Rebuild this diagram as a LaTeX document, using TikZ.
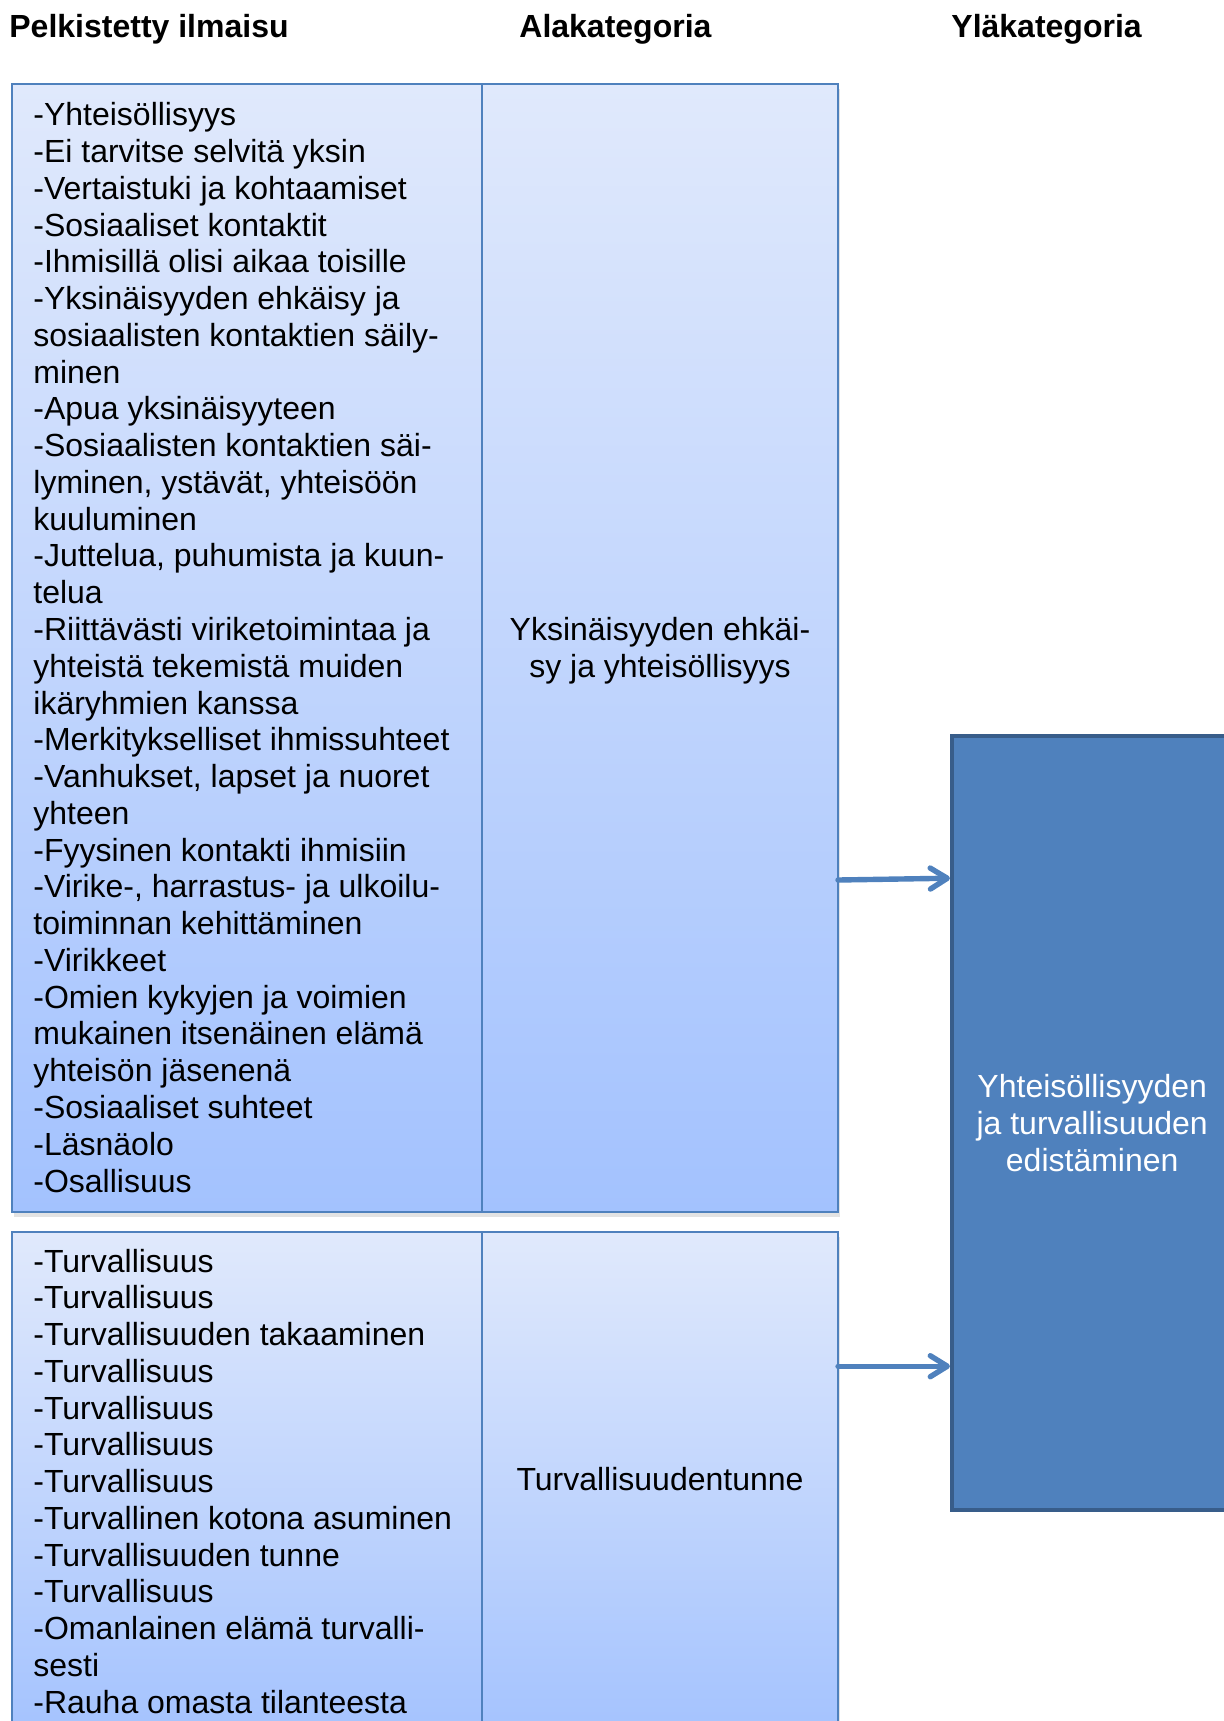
\documentclass[tikz,border=0pt]{standalone}
\usepackage{fontspec}
\setmainfont{Liberation Sans}
\usetikzlibrary{arrows.meta,shadows}

\definecolor{accent}{HTML}{4F81BD}
\definecolor{accentdark}{HTML}{385D8A}
\definecolor{celltop}{HTML}{E0E9FC}
\definecolor{cellbot}{HTML}{A3C2FE}

\newcommand{\bodyfont}{\fontsize{16}{18.385}\selectfont}

\tikzset{
  % outer frame of a two-column group, with gradient and soft shadow
  groupbox/.style={rectangle, draw=accent, line width=1pt,
    top color=celltop, bottom color=cellbot,
    drop shadow={opacity=0.22, shadow xshift=1pt, shadow yshift=-2.5pt},
    inner sep=0pt, outer sep=0pt, anchor=north west},
  % one column cell inside a group
  cellbox/.style={rectangle, draw=accent, line width=1pt,
    inner sep=0pt, outer sep=0pt, anchor=north west},
  heading/.style={font=\fontsize{16}{18.4}\selectfont\bfseries,
    inner sep=0pt, anchor=base west},
  itemlist/.style={inner sep=0pt, anchor=base west},
  subcat/.style={inner sep=0pt, anchor=base},
  maincat/.style={rectangle, fill=accent, draw=accentdark, line width=2.2pt,
    text=white, font=\bodyfont, align=center, inner sep=0pt,
    anchor=north west},
  link/.style={draw=accent, line width=2.7pt, line cap=round,
    -{Straight Barb[length=8.5pt,width=10.5pt,round]}},
}

\begin{document}
\begin{tikzpicture}[x=0.5pt,y=-0.5pt]
\useasboundingbox (0,0) rectangle (1224,1721);

% column headings
\node[heading] (h1) at (9,37.5)   {Pelkistetty ilmaisu};
\node[heading] (h2) at (519,37.5) {Alakategoria};
\node[heading] (h3) at (951,37.5) {Yläkategoria};

% first group: loneliness prevention and community
\node[groupbox, minimum width=413pt, minimum height=564pt] (g1) at (12,84) {};
\node[cellbox, minimum width=235pt, minimum height=564pt] (c1a) at (12,84) {};
\node[cellbox, minimum width=178pt, minimum height=564pt] (c1b) at (482,84) {};

\node[itemlist] (t1a) at (33,125.7) {\parbox[t]{230pt}{\bodyfont\raggedright
-Yhteisöllisyys\\
-Ei tarvitse selvitä yksin\\
-Vertaistuki ja kohtaamiset\\
-Sosiaaliset kontaktit\\
-Ihmisillä olisi aikaa toisille\\
-Yksinäisyyden ehkäisy ja\\
sosiaalisten kontaktien säily-\\
minen\\
-Apua yksinäisyyteen\\
-Sosiaalisten kontaktien säi-\\
lyminen, ystävät, yhteisöön\\
kuuluminen\\
-Juttelua, puhumista ja kuun-\\
telua\\
-Riittävästi viriketoimintaa ja\\
yhteistä tekemistä muiden\\
ikäryhmien kanssa\\
-Merkitykselliset ihmissuhteet\\
-Vanhukset, lapset ja nuoret\\
yhteen\\
-Fyysinen kontakti ihmisiin\\
-Virike-, harrastus- ja ulkoilu-\\
toiminnan kehittäminen\\
-Virikkeet\\
-Omien kykyjen ja voimien\\
mukainen itsenäinen elämä\\
yhteisön jäsenenä\\
-Sosiaaliset suhteet\\
-Läsnäolo\\
-Osallisuus}};

\node[subcat] (t1b) at (660,640.5) {\parbox[t]{170pt}{\bodyfont\centering
Yksinäisyyden ehkäi-\\
sy ja yhteisöllisyys}};

% second group: sense of safety
\node[groupbox, minimum width=413pt, minimum height=256pt] (g2) at (12,1232) {};
\node[cellbox, minimum width=235pt, minimum height=256pt] (c2a) at (12,1232) {};
\node[cellbox, minimum width=178pt, minimum height=256pt] (c2b) at (482,1232) {};

\node[itemlist] (t2a) at (33,1272) {\parbox[t]{230pt}{\bodyfont\raggedright
-Turvallisuus\\
-Turvallisuus\\
-Turvallisuuden takaaminen\\
-Turvallisuus\\
-Turvallisuus\\
-Turvallisuus\\
-Turvallisuus\\
-Turvallinen kotona asuminen\\
-Turvallisuuden tunne\\
-Turvallisuus\\
-Omanlainen elämä turvalli-\\
sesti\\
-Rauha omasta tilanteesta}};

\node[subcat] (t2b) at (660,1490.7) {\parbox[t]{170pt}{\bodyfont\centering
Turvallisuudentunne}};

% main category
\node[maincat, minimum width=140pt, minimum height=387pt] (main) at (950,734)
  {Yhteisöllisyyden\\ja turvallisuuden\\edistäminen};

% connectors from the sub-categories to the main category
\coordinate (tip1) at ([yshift=122.5pt]main.west);
\coordinate (tip2) at ([yshift=-121.5pt]main.west);
\draw[link] ([yshift=-116pt]c1b.east) -- (tip1);
\draw[link] (c2b.east |- tip2) -- (tip2);
\end{tikzpicture}
\end{document}
